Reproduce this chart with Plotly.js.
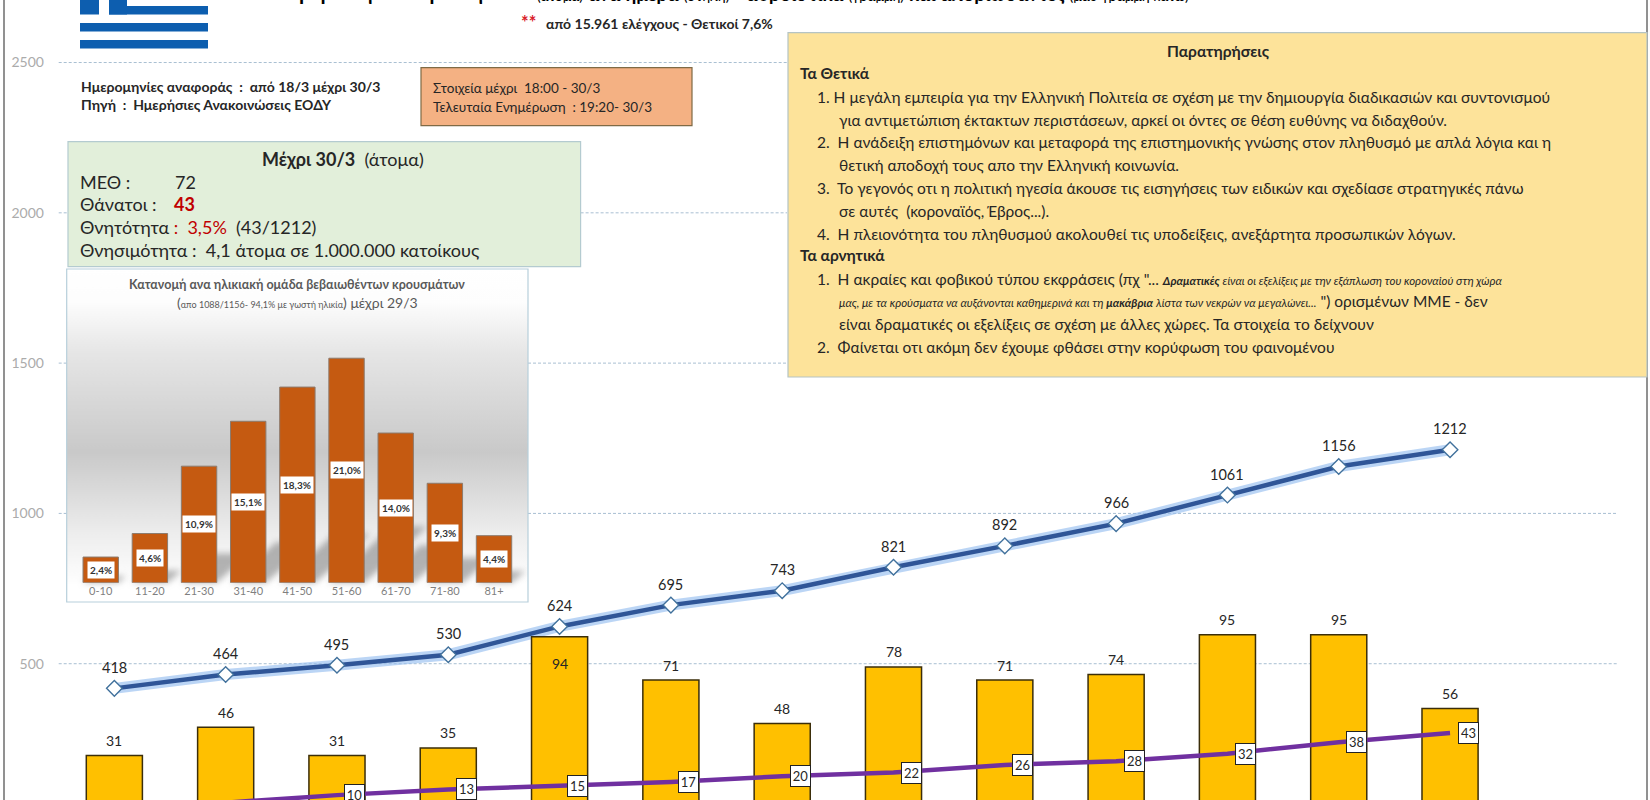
<!DOCTYPE html>
<html><head><meta charset="utf-8">
<script src="https://cdn.plot.ly/plotly-3.0.1.min.js"></script>
<style>html,body{margin:0;padding:0;background:#fff;overflow:hidden}#g{width:1650px;height:800px}</style>
</head><body><div id="g"></div>
<script>
const days=['18/3','19/3','20/3','21/3','22/3','23/3','24/3','25/3','26/3','27/3','28/3','29/3','30/3','31/3'];
const cumulative=[418,464,495,530,624,695,743,821,892,966,1061,1156,1212];
const daily=[31,46,31,35,94,71,48,78,71,74,95,95,56];
const deaths=[5,6,10,13,15,17,20,22,26,28,32,38,43];
const ageGroups=['0-10','11-20','21-30','31-40','41-50','51-60','61-70','71-80','81+'];
const agePct=[2.4,4.6,10.9,15.1,18.3,21.0,14.0,9.3,4.4];
const gridValues=[2500,2000,1500,1000,500];

const FONT='Lato, "Noto Sans", sans-serif';
const W=1650,H=800;
const px=x=>x/W, py=y=>1-y/H;
const IN={x0:66.7,x1:528,y0:269,y1:602,base:582.7,top:340,xa:76.15,xb:518.6};
const ageTop=(IN.base-IN.top)/10.69;

function rectS(x0,y0,x1,y1,fill,line,lw){return {type:'rect',layer:'below',xref:'paper',yref:'paper',x0:px(x0),x1:px(x1),y0:py(y0),y1:py(y1),fillcolor:fill,line:{color:line||'rgba(0,0,0,0)',width:lw===undefined?1:lw}};}
function T(x,y,text,size,o){o=o||{};return Object.assign({xref:'paper',yref:'paper',x:px(x),y:py(y),text:text,showarrow:false,xanchor:'left',yanchor:'middle',font:{family:FONT,size:size,color:'#262626'},align:'left'},o);}

const shapes=[];
// grid segments (interrupted by the boxes, as in the picture)
const segs={2500:[[58.7,787]],2000:[[58.7,68],[580.6,787]],1500:[[58.7,66.7],[528,787]],1000:[[58.7,66.7],[528,1617]],500:[[58.7,1617]]};
gridValues.forEach(v=>segs[v].forEach(s=>shapes.push({type:'line',layer:'below',xref:'paper',yref:'y',x0:px(s[0]),x1:px(s[1]),y0:v,y1:v,line:{color:'#A9BFD2',width:1,dash:'3px,2px'}})));
// frame
shapes.push(rectS(4,-5,1647,806,'rgba(0,0,0,0)','#6E6E6E',1.5));
// flag
const BL='#0D5EAF';
[[80,40,208,48.5],[80,23,208,31.5],[109,6,208,14.5],[80,-5,99,14.5],[109,-5,127,14.5]].forEach(r=>shapes.push(rectS(r[0],r[1],r[2],r[3],BL)));
// boxes
shapes.push(rectS(788,32.7,1647,377,'#FDE39A','#B5C4C4',1.2));
shapes.push(rectS(421,67.7,692,125.7,'#F4B183','#7F6A45',1.2));
shapes.push(rectS(68,141.7,580.6,266.7,'#E2EFDA','#B4CBD0',1.2));
shapes.push(rectS(IN.x0,IN.y0,IN.x1,IN.y1,'rgba(0,0,0,0)','#B7CFDB',1.2));

const ann=[];
// title row
ann.push(T(266,-8,'<b>Επιβεβαιωμένα κρούσματα</b>',21,{font:{family:FONT,size:21,color:'#000'}}));
ann.push(T(535,-6,'<span style="font-size:14px">(άτομα)</span> <b>ανά ημέρα</b> <span style="font-size:14px">(στήλη)</span> - <b>αθροιστικά</b> <span style="font-size:14px">(γραμμή)</span> <b>και αποβιώσαντες</b> <span style="font-size:14px">(μαύ γραμμή κάτω)</span>',19,{font:{family:FONT,size:19,color:'#000'}}));
ann.push(T(519,22,'<b>**</b>',18,{font:{family:FONT,size:18,color:'#D9202A'}}));
ann.push(T(544,23,'<b>από 15.961 ελέγχους - Θετικοί 7,6%</b>',14));
// references
ann.push(T(79,86,'<b>Ημερομηνίες αναφοράς  :  από 18/3 μέχρι 30/3</b>',14));
ann.push(T(79,105,'<b>Πηγή  :  Ημερήσιες Ανακοινώσεις ΕΟΔΥ</b>',14));
ann.push(T(431,88,'Στοιχεία μέχρι  18:00 - 30/3',13.5));
ann.push(T(431,107,'Τελευταία Ενημέρωση  : 19:20- 30/3',13.5));
// green box
ann.push(T(343,159,'<b>Μέχρι 30/3</b>  (άτομα)',18,{xanchor:'center'}));
ann.push(T(78,181.7,'ΜΕΘ :',18));
ann.push(T(173,181.7,'72',18));
ann.push(T(78,204,'Θάνατοι :',18));
ann.push(T(172,204,'<b>43</b>',18,{font:{family:FONT,size:18,color:'#C00000'}}));
ann.push(T(78,227,'Θνητότητα <span style="color:#C00000">:  3,5%</span>  (43/1212)',18));
ann.push(T(78,249.5,'Θνησιμότητα :  4,1 άτομα σε 1.000.000 κατοίκους',18));
// notes
const notes=[
 [1218,50.7,'<b>Παρατηρήσεις</b>',{xanchor:'center'}],
 [798,73,'<b>Τα Θετικά</b>'],
 [815,96.7,'1. Η μεγάλη εμπειρία για την Ελληνική Πολιτεία σε σχέση με την δημιουργία διαδικασιών και συντονισμού'],
 [837,120,'για αντιμετώπιση έκτακτων περιστάσεων, αρκεί οι όντες σε θέση ευθύνης να διδαχθούν.'],
 [815,142,'2.  Η ανάδειξη επιστημόνων και μεταφορά της επιστημονικής γνώσης στον πληθυσμό με απλά λόγια και η'],
 [837,165,'θετική αποδοχή τους απο την Ελληνική κοινωνία.'],
 [815,188,'3.  Το γεγονός οτι η πολιτική ηγεσία άκουσε τις εισηγήσεις των ειδικών και σχεδίασε στρατηγικές πάνω'],
 [837,211,'σε αυτές  (κοροναϊός, Έβρος...).'],
 [815,234,'4.  Η πλειονότητα του πληθυσμού ακολουθεί τις υποδείξεις, ανεξάρτητα προσωπικών λόγων.'],
 [798,255,'<b>Τα αρνητικά</b>'],
 [815,279,'1.  Η ακραίες και φοβικού τύπου εκφράσεις (πχ "... <span style="font-size:11.5px"><b><i>Δραματικές</i></b> <i>είναι οι εξελίξεις με την εξάπλωση του κοροναϊού στη χώρα</i></span>'],
 [837,301,'<span style="font-size:11.5px"><i>μας, με τα κρούσματα να αυξάνονται καθημερινά και τη</i> <b><i>μακάβρια</i></b> <i>λίστα των νεκρών να μεγαλώνει...</i></span> ") ορισμένων ΜΜΕ - δεν'],
 [837,324,'είναι δραματικές οι εξελίξεις σε σχέση με άλλες χώρες. Τα στοιχεία το δείχνουν'],
 [815,347,'2.  Φαίνεται οτι ακόμη δεν έχουμε φθάσει στην κορύφωση του φαινομένου']
];
notes.forEach(n=>ann.push(T(n[0],n[1],n[2],15.5,n[3])));
// inset titles
ann.push(T(297,285,'<b>Κατανομή ανα ηλικιακή ομάδα βεβαιωθέντων κρουσμάτων</b>',12.5,{xanchor:'center',font:{family:FONT,size:12.5,color:'#595959'}}));
ann.push(T(297,303,'(<span style="font-size:9px">απο 1088/1156- 94,1% με γωστή ηλικία</span>) μέχρι 29/3',14,{xanchor:'center',font:{family:FONT,size:14,color:'#595959'}}));
// data labels
const xs=daily.map((_,i)=>days[i]);
cumulative.forEach((v,i)=>ann.push({xref:'x',yref:'y',x:xs[i],y:v,text:String(v),showarrow:false,yanchor:'middle',yshift:21,font:{family:FONT,size:14.5,color:'#262626'}}));
daily.forEach((v,i)=>ann.push({xref:'x',yref:'y2',x:xs[i],y:v,text:String(v),showarrow:false,yanchor:'middle',yshift:v===94?-27:15,font:{family:FONT,size:14,color:'#262626'}}));
deaths.forEach((v,i)=>ann.push({xref:'x',yref:'y2',x:xs[i],y:v,text:String(v),showarrow:false,yanchor:'middle',xshift:18,width:String(v).length>1?19:14,height:20,bgcolor:'#fff',bordercolor:'#222',borderwidth:1,borderpad:0,font:{family:FONT,size:13,color:'#262626'}}));
agePct.forEach((v,i)=>ann.push({xref:'x3',yref:'y3',x:ageGroups[i],y:v/2,text:'<b>'+v.toFixed(1).replace('.',',')+'%</b>',showarrow:false,yanchor:'middle',bgcolor:'#fff',borderpad:2,font:{family:FONT,size:10,color:'#333'}}));

// backdrop image for inset: gradient + soft shadows derived from the values
function inset(){
 const w=Math.round(IN.x1-IN.x0),h=Math.round(IN.y1-IN.y0),c=document.createElement('canvas');c.width=w;c.height=h;
 const g=c.getContext('2d'),gr=g.createLinearGradient(0,0,0,h);
 gr.addColorStop(0,'#ffffff');gr.addColorStop(.1,'#fdfdfd');gr.addColorStop(.25,'#e6e6e6');gr.addColorStop(.55,'#c9c9c9');gr.addColorStop(.8,'#eeeeee');gr.addColorStop(.95,'#ffffff');gr.addColorStop(1,'#ffffff');
 g.fillStyle=gr;g.fillRect(0,0,w,h);
 const step=(IN.xb-IN.xa)/agePct.length,bw=step*.72;
 try{g.filter='blur(3px)';}catch(e){}
 g.fillStyle='rgba(120,120,120,.55)';
 agePct.forEach((v,i)=>{const cx=IN.xa+step*(i+.5)-IN.x0,bh=v*10.69,b=IN.base-IN.y0,sh=bh*.25,dx=bh*.28;
  g.beginPath();g.moveTo(cx-bw/2,b);g.lineTo(cx+bw/2,b);g.lineTo(cx+bw/2+dx,b-sh);g.lineTo(cx-bw/2+dx,b-sh);g.closePath();g.fill();});
 return c.toDataURL('image/png');
}

const data=[
 {type:'bar',x:xs,y:daily,yaxis:'y2',width:.504,marker:{color:'#FFC000',line:{color:'#3B2E0A',width:1.5}},hoverinfo:'skip'},
 {type:'scatter',mode:'lines',x:xs,y:cumulative,line:{color:'rgba(150,190,240,.65)',width:11},hoverinfo:'skip'},
 {type:'scatter',mode:'lines+markers',x:xs,y:cumulative,line:{color:'#2F5597',width:4.5},marker:{symbol:'diamond',size:12,color:'#fff',line:{color:'#41719C',width:1.4}}},
 {type:'scatter',mode:'lines',x:xs,y:deaths,yaxis:'y2',line:{color:'#7030A0',width:4.5}},
 {type:'bar',x:ageGroups,y:agePct,xaxis:'x3',yaxis:'y3',width:.72,marker:{color:'#C55A11',line:{color:'#8C7B6E',width:1}}}
];
const layout={
 width:W,height:H,margin:{l:0,r:0,t:0,b:0},paper_bgcolor:'#fff',plot_bgcolor:'rgba(0,0,0,0)',showlegend:false,barmode:'overlay',
 xaxis:{domain:[px(58.7),px(1617)],type:'category',categoryorder:'array',categoryarray:days,range:[-.5,13.5],showline:false,showgrid:false,zeroline:false,ticks:'',tickfont:{family:FONT,size:13,color:'#888'}},
 yaxis:{domain:[0,1],range:[46.6,2708],tickvals:gridValues,showgrid:false,zeroline:false,showline:false,ticks:'outside',ticklen:11,tickcolor:'rgba(0,0,0,0)',tickfont:{family:FONT,size:14,color:'#ABABAB'}},
 yaxis2:{domain:[0,1],overlaying:'y',side:'right',range:[7.42,431.6],visible:false},
 xaxis3:{domain:[px(IN.xa),px(IN.xb)],anchor:'y3',type:'category',categoryorder:'array',categoryarray:ageGroups,range:[-.5,8.5],showgrid:false,zeroline:false,showline:false,ticks:'',tickfont:{family:FONT,size:11,color:'#7F7F7F'}},
 yaxis3:{domain:[py(IN.base),py(IN.top)],anchor:'x3',range:[0,ageTop],visible:false},
 shapes:shapes,annotations:ann,
 images:[{source:inset(),xref:'paper',yref:'paper',x:px(IN.x0),y:py(IN.y0),sizex:(IN.x1-IN.x0)/W,sizey:(IN.y1-IN.y0)/H,xanchor:'left',yanchor:'top',sizing:'stretch',layer:'below'}]
};
Plotly.newPlot('g',data,layout,{displayModeBar:false,staticPlot:true});
</script></body></html>
